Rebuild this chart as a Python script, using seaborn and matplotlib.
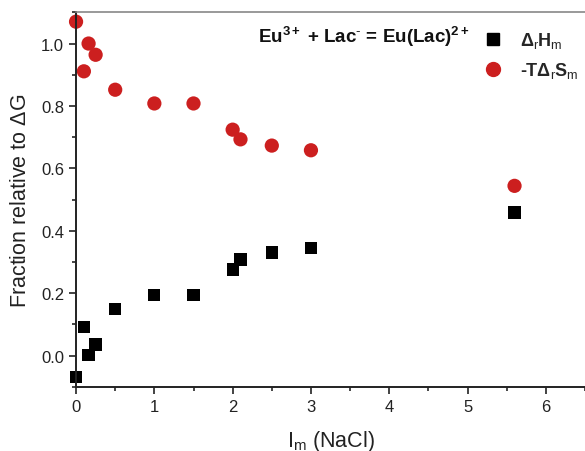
import matplotlib
matplotlib.use("Agg")
import matplotlib.pyplot as plt
from matplotlib.ticker import MultipleLocator
from matplotlib.lines import Line2D
import seaborn as sns
import pandas as pd

ionic_strength = [0.0, 0.1, 0.16, 0.25, 0.5, 1.0, 1.5, 2.0, 2.1, 2.5, 3.0, 5.6]
enthalpy_frac = [-0.069, 0.091, 0.003, 0.036, 0.149, 0.194, 0.194, 0.276, 0.308, 0.330, 0.344, 0.459]
entropy_frac = [1.070, 0.911, 1.000, 0.964, 0.852, 0.808, 0.808, 0.724, 0.693, 0.673, 0.658, 0.544]
series_names = ["H", "S"]
series_labels = [r"$\mathbf{\Delta}_{\mathrm{r}}\mathbf{H}_{\mathrm{m}}$",
                 r"-T$\mathbf{\Delta}_{\mathrm{r}}\mathbf{S}_{\mathrm{m}}$"]
x_ticks = [0, 1, 2, 3, 4, 5, 6]
y_ticks = [0.0, 0.2, 0.4, 0.6, 0.8, 1.0]

df = pd.concat([
    pd.DataFrame({"I": ionic_strength, "frac": enthalpy_frac, "series": series_names[0]}),
    pd.DataFrame({"I": ionic_strength, "frac": entropy_frac, "series": series_names[1]}),
])

sns.set_style("ticks")
plt.rcParams["font.family"] = ["Liberation Sans", "DejaVu Sans"]
plt.rcParams["mathtext.fontset"] = "custom"
plt.rcParams["mathtext.rm"] = "Liberation Sans"
plt.rcParams["mathtext.bf"] = "Liberation Sans:bold"
plt.rcParams["mathtext.it"] = "Liberation Sans:italic"

fig = plt.figure(figsize=(5.85, 4.52), dpi=100)
ax = fig.add_axes([0.130, 0.142, 0.870, 0.8285])

sns.scatterplot(data=df, x="I", y="frac", hue="series", style="series",
                palette={"H": "#000000", "S": "#cc1f1f"},
                markers={"H": "s", "S": "o"},
                s=95, linewidth=0, ax=ax, legend=False, clip_on=False)
ax.collections[0].set_sizes([78 if v == "H" else 105 for v in df["series"]])

ax.set_xlim(0, 6.5)
ax.set_ylim(-0.1, 1.1)
ax.set_xticks(x_ticks)
ax.set_yticks(y_ticks)
ax.xaxis.set_minor_locator(MultipleLocator(0.5))
ax.yaxis.set_minor_locator(MultipleLocator(0.1))
ax.tick_params(axis="both", which="major", direction="out", length=5, width=1.2,
               labelsize=12, colors="#222222")
ax.tick_params(axis="both", which="minor", direction="out", length=3, width=1.2)
for side in ["left", "bottom"]:
    ax.spines[side].set_linewidth(1.4)
    ax.spines[side].set_color("#222222")
ax.spines["top"].set_visible(True)
ax.spines["top"].set_color("#888888")
ax.spines["top"].set_linewidth(1.2)
ax.spines["right"].set_visible(False)

ax.set_xlabel(r"I$_{\mathrm{m}}$ (NaCl)", fontsize=15.5, labelpad=10, color="#222222")
ax.set_ylabel(r"Fraction relative to $\Delta$G", fontsize=15.5, labelpad=7, color="#222222")

ax.text(0.357, 0.922, r"Eu$^{\mathbf{3+}}$ + Lac$^{\mathbf{\text{-}}}$ = Eu(Lac)$^{\mathbf{2+}}$",
        transform=ax.transAxes, fontsize=13.5, fontweight="bold", va="baseline", ha="left",
        color="#111111")

handles = [Line2D([], [], marker="s", linestyle="", color="#000000", markersize=8),
           Line2D([], [], marker="o", linestyle="", color="#cc1f1f", markersize=10)]
leg = ax.legend(handles, series_labels, loc="upper right", bbox_to_anchor=(1.02, 0.995),
                frameon=False, prop={"size": 13, "weight": "bold"},
                handletextpad=0.5, labelspacing=0.55)

fig.savefig("out.png", dpi=100)
